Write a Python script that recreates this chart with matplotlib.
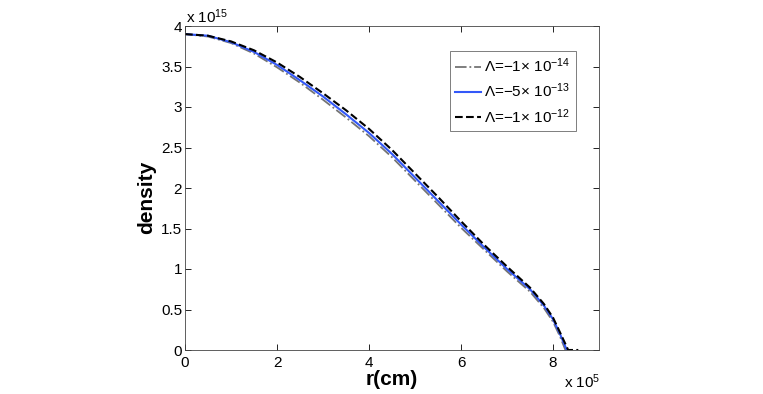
import matplotlib
matplotlib.use("Agg")
import matplotlib.pyplot as plt

plt.rcParams['font.family'] = ['Liberation Sans', 'DejaVu Sans']
plt.rcParams['mathtext.fontset'] = 'custom'
plt.rcParams['mathtext.rm'] = 'Liberation Sans'
plt.rcParams['mathtext.it'] = 'Liberation Sans:italic'
plt.rcParams['mathtext.bf'] = 'Liberation Sans:bold'

# radius in units of 1e5 cm, density in units of 1e15
r_gray = [0, 0.5, 1, 1.5, 2, 2.5, 3, 3.5, 4, 4.5, 5, 5.5, 6, 6.5, 7, 7.5, 7.8, 8.0, 8.15, 8.27]
d_gray = [3.90, 3.87, 3.79, 3.66, 3.49, 3.30, 3.09, 2.87, 2.64, 2.38, 2.09, 1.80, 1.51, 1.24, 0.97, 0.72, 0.52, 0.35, 0.17, 0.0]

r_blue = [0, 0.5, 1, 1.5, 2, 2.5, 3, 3.5, 4, 4.5, 5, 5.5, 6, 6.5, 7, 7.5, 7.8, 8.0, 8.15, 8.3]
d_blue = [3.90, 3.88, 3.80, 3.68, 3.52, 3.33, 3.13, 2.91, 2.68, 2.42, 2.13, 1.84, 1.55, 1.27, 1.00, 0.75, 0.55, 0.38, 0.20, 0.0]

r_black = [0, 0.5, 1, 1.5, 2, 2.5, 3, 3.5, 4, 4.5, 5, 5.5, 6, 6.5, 7, 7.5, 7.8, 8.0, 8.15, 8.33, 8.55]
d_black = [3.90, 3.88, 3.81, 3.70, 3.55, 3.37, 3.17, 2.96, 2.73, 2.47, 2.18, 1.89, 1.59, 1.30, 1.03, 0.77, 0.57, 0.40, 0.22, 0.0, 0.0]

labels = [r'$\Lambda$=−1× 10$^{-14}$', r'$\Lambda$=−5× 10$^{-13}$', r'$\Lambda$=−1× 10$^{-12}$']
xticks = [0, 2, 4, 6, 8]
yticks = [0, 0.5, 1, 1.5, 2, 2.5, 3, 3.5, 4]

fig = plt.figure(figsize=(7.63, 3.94), dpi=100)
ax = fig.add_axes([185 / 763, 44 / 394, 414 / 763, 324 / 394])

ax.plot(r_gray, d_gray, color='#747474', linestyle='-.', lw=1.3, label=labels[0])
ax.plot(r_blue, d_blue, color='#3358f8', linestyle='-', lw=1.5, label=labels[1])
ax.plot(r_black, d_black, color='black', linestyle='--', lw=1.5, label=labels[2])

ax.set_xlim(0, 9)
ax.set_ylim(0, 4)
ax.set_xticks(xticks)
ax.set_xticklabels([str(v) for v in xticks])
ax.set_yticks(yticks)
ax.set_yticklabels([('%g' % v) for v in yticks])
ax.tick_params(direction='in', top=True, right=True, labelsize=11, length=4, width=0.6)
ax.tick_params(axis='y', pad=2)
ax.tick_params(axis='x', pad=4)
for s in ax.spines.values():
    s.set_linewidth(0.6)
    s.set_color('#444444')

ax.set_xlabel('r(cm)', fontsize=15, fontweight='bold', labelpad=0)
ax.set_ylabel('density', fontsize=15, fontweight='bold', labelpad=3)
ax.yaxis.set_label_coords(-0.07, 0.47)

fig.text(186 / 763, (394 - 23) / 394, r'x 10$^{15}$', fontsize=11, ha='left', va='baseline')
fig.text(600 / 763, (394 - 388) / 394, r'x 10$^{5}$', fontsize=11, ha='right', va='baseline')

leg = ax.legend(loc='upper right', bbox_to_anchor=(0.944, 0.923), borderaxespad=0, fontsize=11,
                frameon=True, fancybox=False, edgecolor='#444444', handlelength=1.7,
                handletextpad=0.2, borderpad=0.35, labelspacing=0.45)
leg.get_frame().set_linewidth(0.6)

fig.savefig('out.png', dpi=100)
